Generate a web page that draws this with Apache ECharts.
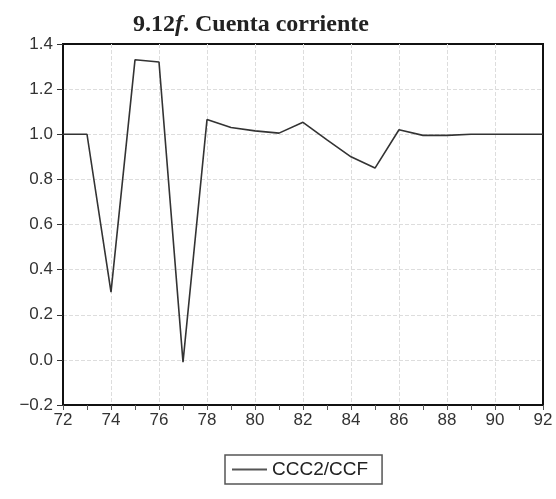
<!DOCTYPE html>
<html><head><meta charset="utf-8">
<script src="https://cdn.jsdelivr.net/npm/echarts@6/dist/echarts.min.js"></script>
<style>html,body{margin:0;padding:0;background:#fff}#c{width:556px;height:499px}</style>
</head><body><div id="c"></div>
<script>
const years = [72,73,74,75,76,77,78,79,80,81,82,83,84,85,86,87,88,89,90,91,92];
const ccc2ccf = [1.0,1.0,0.30,1.33,1.32,-0.01,1.065,1.03,1.015,1.005,1.053,0.975,0.90,0.85,1.02,0.995,0.995,1.0,1.0,1.0,1.0];
const seriesName = 'CCC2/CCF';
const chart = echarts.init(document.getElementById('c'));
chart.setOption({
  animation:false,
  title:{text:'{a|9.12}{b|f}{a|. Cuenta corriente}',left:128,top:8,
    textStyle:{rich:{a:{fontFamily:'Liberation Serif',fontWeight:'bold',fontSize:24,color:'#222'},
                     b:{fontFamily:'Liberation Serif',fontWeight:'bold',fontStyle:'italic',fontSize:24,color:'#222'}}}},
  grid:{left:63,right:13,top:44,bottom:94,show:true,borderColor:'#111',borderWidth:2},
  xAxis:{type:'value',min:72,max:92,interval:2,
    axisLine:{onZero:false,lineStyle:{color:'#111',width:2}},
    axisTick:{show:true,length:5,lineStyle:{color:'#555',width:1}},
    minorTick:{show:true,splitNumber:2,length:5,lineStyle:{color:'#555',width:1}},
    axisLabel:{color:'#333',fontFamily:'Liberation Sans',fontSize:17,margin:7},
    splitLine:{show:true,showMinLine:false,showMaxLine:false,lineStyle:{color:'#ddd',type:'dashed',width:1}}},
  yAxis:{type:'value',min:-0.2,max:1.4,interval:0.2,
    axisLine:{show:true,onZero:false,lineStyle:{color:'#111',width:2}},
    axisTick:{show:true,length:6,lineStyle:{color:'#333'}},
    axisLabel:{color:'#333',fontFamily:'Liberation Sans',fontSize:17,margin:10,
      formatter:v=>v<0?'\u2212'+Math.abs(v).toFixed(1):v.toFixed(1)},
    splitLine:{show:true,showMinLine:false,showMaxLine:false,lineStyle:{color:'#ddd',type:'dashed',width:1}}},
  legend:{top:455,left:225,itemWidth:35,itemHeight:2,itemGap:10,
    borderColor:'#555',borderWidth:1.5,padding:[5,14,5,7],
    icon:'rect',
    textStyle:{color:'#222',fontFamily:'Liberation Sans',fontSize:19},
    data:[seriesName]},
  series:[{name:seriesName,type:'line',symbol:'none',
    data:years.map((y,i)=>[y,ccc2ccf[i]]),
    lineStyle:{color:'#333',width:1.6},itemStyle:{color:'#555'}}]
});
</script></body></html>
